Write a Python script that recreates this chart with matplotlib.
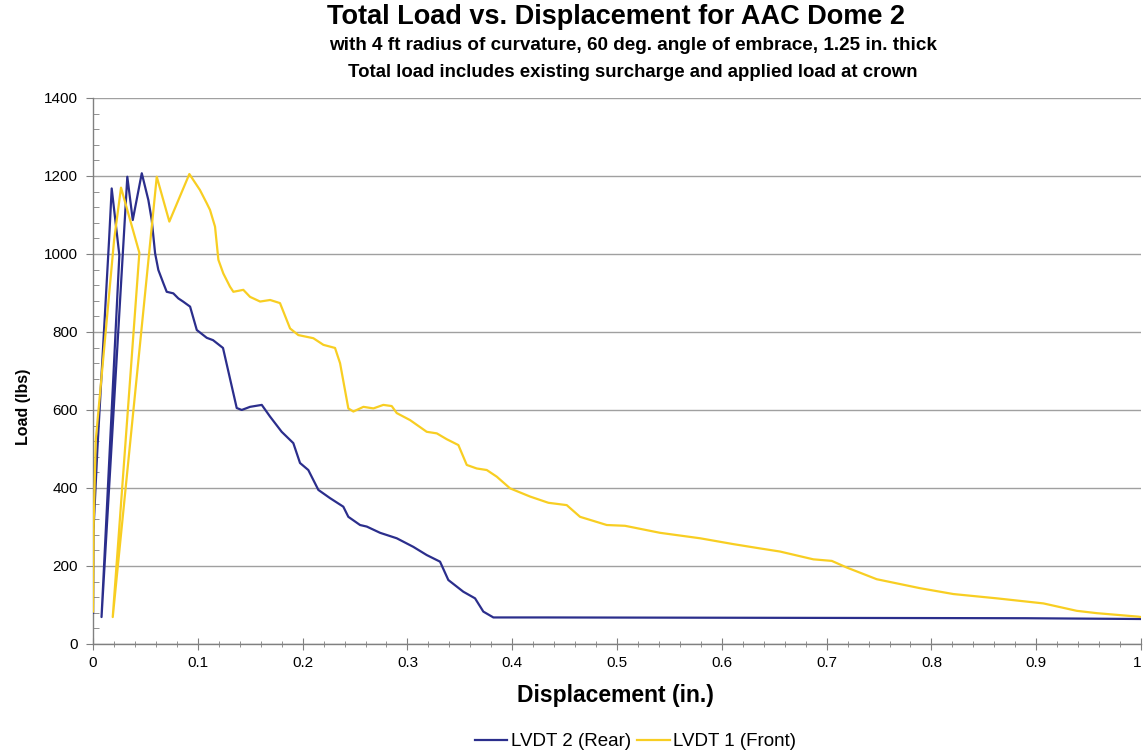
import matplotlib
matplotlib.use("Agg")
import matplotlib.pyplot as plt
from matplotlib.ticker import MultipleLocator, FixedLocator, FixedFormatter

plt.rcParams['font.family'] = ['Liberation Sans', 'DejaVu Sans']

# LVDT 2 (Rear): displacement (in.) and total load (lbs)
rear_disp = [0.0, 0.0004, 0.0041, 0.0153, 0.0178, 0.0251, 0.0081, 0.0327, 0.0379,
             0.0465, 0.0528, 0.056, 0.0592, 0.0623, 0.0671, 0.0703, 0.0766, 0.0814,
             0.0859, 0.0926, 0.099, 0.1085, 0.1145, 0.124, 0.1371, 0.1419, 0.1498,
             0.161, 0.1689, 0.18, 0.1911, 0.1975, 0.2054, 0.215, 0.2261, 0.2388,
             0.2436, 0.2548, 0.2612, 0.2739, 0.2898, 0.3056, 0.3184, 0.3311, 0.339,
             0.3533, 0.3645, 0.3724, 0.382, 0.43, 0.89, 1.0]
rear_load = [80, 290, 497, 1036, 1168, 997, 69, 1198, 1087,
             1207, 1138, 1087, 1002, 959, 925, 903, 899, 886,
             878, 865, 805, 785, 779, 759, 605, 600, 608,
             613, 583, 544, 515, 464, 446, 395, 374, 352,
             326, 305, 301, 285, 271, 249, 228, 211, 164,
             134, 117, 83, 68, 68, 66, 64]

# LVDT 1 (Front): displacement (in.) and total load (lbs)
front_disp = [0.0, 0.0005, 0.0026, 0.0201, 0.0267, 0.0442, 0.0188, 0.0608, 0.0728,
              0.0919, 0.102, 0.1085, 0.1116, 0.1164, 0.1196, 0.1243, 0.1307, 0.1339,
              0.1434, 0.1498, 0.1594, 0.169, 0.1784, 0.188, 0.1959, 0.2102, 0.2198,
              0.2309, 0.2357, 0.2436, 0.2484, 0.258, 0.2675, 0.277, 0.285, 0.2898,
              0.3025, 0.3184, 0.328, 0.3375, 0.3486, 0.3566, 0.3661, 0.3757, 0.3852,
              0.3979, 0.417, 0.4345, 0.452, 0.4647, 0.4902, 0.5076, 0.541, 0.5792,
              0.611, 0.6364, 0.6555, 0.6873, 0.7049, 0.7192, 0.7478, 0.7891, 0.8209,
              0.8623, 0.9068, 0.9386, 0.9577, 0.9975, 1.0]
front_load = [83, 300, 523, 1036, 1170, 1003, 69, 1198, 1083,
              1205, 1164, 1130, 1113, 1070, 985, 950, 916, 903,
              908, 890, 878, 882, 874, 809, 792, 784, 767,
              759, 720, 604, 596, 608, 604, 613, 610, 592,
              574, 544, 540, 525, 510, 459, 450, 446, 429,
              399, 378, 362, 356, 326, 305, 303, 285, 271,
              256, 245, 237, 217, 213, 196, 166, 143, 128,
              117, 104, 85, 79, 70, 69]

x_ticks = [0.0, 0.1, 0.2, 0.3, 0.4, 0.5, 0.6, 0.7, 0.8, 0.9, 1.0]
x_tick_labels = ['0', '0.1', '0.2', '0.3', '0.4', '0.5', '0.6', '0.7', '0.8', '0.9', '1']
y_ticks = [0, 200, 400, 600, 800, 1000, 1200, 1400]

fig = plt.figure(figsize=(11.43, 7.53), dpi=100)
ax = fig.add_axes([0.0814, 0.1448, 0.9169, 0.7251])

ax.plot(rear_disp, rear_load, color='#2B2E8C', lw=1.6, label='LVDT 2 (Rear)', zorder=3)
ax.plot(front_disp, front_load, color='#F8CE22', lw=1.6, label='LVDT 1 (Front)', zorder=3)

ax.set_xlim(0, 1)
ax.set_ylim(0, 1400)
ax.xaxis.set_major_locator(FixedLocator(x_ticks))
ax.xaxis.set_major_formatter(FixedFormatter(x_tick_labels))
ax.xaxis.set_minor_locator(MultipleLocator(0.02))
ax.yaxis.set_major_locator(FixedLocator(y_ticks))
ax.yaxis.set_minor_locator(MultipleLocator(40))

ax.grid(axis='y', which='major', color='#A0A0A0', lw=1.0, zorder=1)
for s in ('top', 'right'):
    ax.spines[s].set_visible(False)
for s in ('left', 'bottom'):
    ax.spines[s].set_color('#808080')
    ax.spines[s].set_linewidth(1.0)

ax.tick_params(axis='x', which='major', direction='inout', length=9, color='#808080',
               labelsize=11, pad=4)
ax.tick_params(axis='x', which='minor', direction='inout', length=5, color='#808080')
ax.tick_params(axis='y', which='major', direction='out', length=5, color='#808080',
               labelsize=11, pad=6)
ax.tick_params(axis='y', which='minor', direction='in', length=4, color='#808080')

# keep the last x label inside the figure edge
fig.canvas.draw()
ax.get_xticklabels()[-1].set_horizontalalignment('right')

ax.set_xlabel('Displacement (in.)', fontsize=16.5, fontweight='bold')
ax.xaxis.set_label_coords(0.4985, -0.073)
ax.set_ylabel('Load (lbs)', fontsize=11.5, fontweight='bold')
ax.yaxis.set_label_coords(-0.0595, 0.434)

fig.text(0.539, 0.977, 'Total Load vs. Displacement for AAC Dome 2',
         ha='center', va='center', fontsize=19.5, fontweight='bold')
fig.text(0.554, 0.940, 'with 4 ft radius of curvature, 60 deg. angle of embrace, 1.25 in. thick',
         ha='center', va='center', fontsize=13.6, fontweight='bold')
fig.text(0.554, 0.904, 'Total load includes existing surcharge and applied load at crown',
         ha='center', va='center', fontsize=13.4, fontweight='bold')

fig.legend(loc='center', bbox_to_anchor=(0.556, 0.015), ncol=2, frameon=False,
           fontsize=13.5, handlelength=1.75, handletextpad=0.2, columnspacing=0.3)

fig.savefig('out.png', dpi=100)
